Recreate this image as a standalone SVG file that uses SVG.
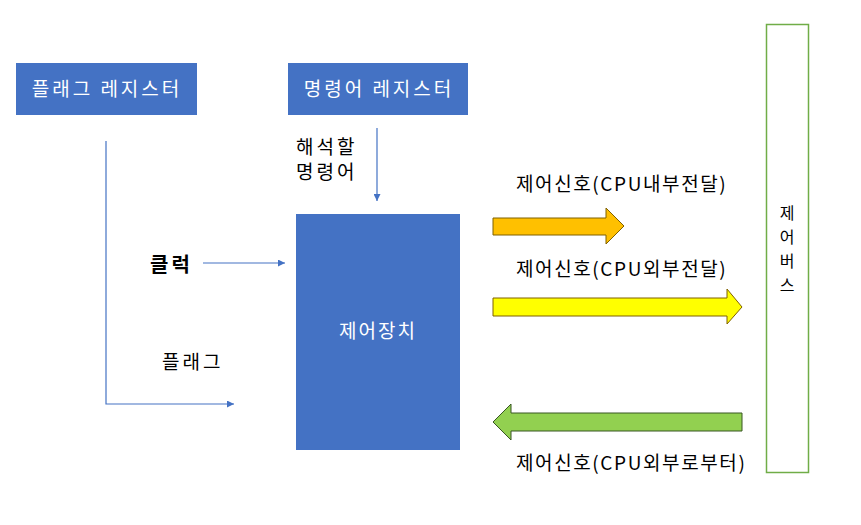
<svg xmlns="http://www.w3.org/2000/svg" width="861" height="525" viewBox="0 0 861 525">
<style>
.box{fill:#4472C4}
.wt{fill:#fff;font-family:"Noto Sans CJK KR","Malgun Gothic",sans-serif;font-size:19px;text-anchor:middle;letter-spacing:3px}
.bt{fill:#000;font-family:"Noto Sans CJK KR",sans-serif;font-size:19px}
.sl{letter-spacing:3px}
.ll{letter-spacing:1.6px}
.ln{stroke:#4472C4;stroke-width:1.2;fill:none}
</style>
<defs>
<marker id="ah" viewBox="0 0 10 10" refX="10" refY="5" markerWidth="7" markerHeight="7" markerUnits="userSpaceOnUse" orient="auto">
<path d="M0,0 L10,5 L0,10 z" fill="#4472C4"/>
</marker>
</defs>
<rect width="861" height="525" fill="#fff"/>
<g id="flag-register">
<rect class="box" x="16" y="63" width="181" height="52"/>
<text class="wt" x="107" y="96">플래그 레지스터</text>
</g>
<g id="instruction-register">
<rect class="box" x="288" y="63" width="180" height="52"/>
<text class="wt" x="379" y="96">명령어 레지스터</text>
</g>
<g id="control-unit">
<rect class="box" x="296" y="214" width="164" height="236"/>
<text class="wt" x="378" y="338" style="letter-spacing:2px">제어장치</text>
</g>
<g id="control-bus">
<rect x="766.5" y="24.5" width="42" height="448" fill="#fff" stroke="#70AD47" stroke-width="1.5"/>
<text class="bt" text-anchor="middle" style="font-size:16px" x="787" y="219">제<tspan x="787" dy="24">어</tspan><tspan x="787" dy="24">버</tspan><tspan x="787" dy="24">스</tspan></text>
</g>
<g id="connectors">
<path class="ln" d="M106,141 V404 H234" marker-end="url(#ah)"/>
<path class="ln" d="M377,128 V201" marker-end="url(#ah)"/>
<path class="ln" d="M203,263 H285" marker-end="url(#ah)"/>
</g>
<g id="labels">
<text class="bt sl" x="296" y="154">해석할<tspan x="296" dy="25">명령어</tspan></text>
<text class="bt sl" x="150" y="272" style="font-weight:bold;font-size:20px">클럭</text>
<text class="bt sl" x="162" y="369">플래그</text>
</g>
<g id="signal-internal">
<polygon points="493,218 606,218 606,208 624,226 606,244 606,235 493,235" fill="#FFC000" stroke="#7F6000" stroke-width="1"/>
<text class="bt ll" x="516" y="191">제어신호(CPU내부전달)</text>
</g>
<g id="signal-external-out">
<polygon points="493,298 727,298 727,289 742,307 727,324 727,316 493,316" fill="#FFFF00" stroke="#7F6000" stroke-width="1"/>
<text class="bt ll" x="516" y="276">제어신호(CPU외부전달)</text>
</g>
<g id="signal-external-in">
<polygon points="742,413 511,413 511,404 493,422 511,440 511,431 742,431" fill="#92D050" stroke="#385723" stroke-width="1"/>
<text class="bt ll" x="516" y="470">제어신호(CPU외부로부터)</text>
</g>
</svg>
